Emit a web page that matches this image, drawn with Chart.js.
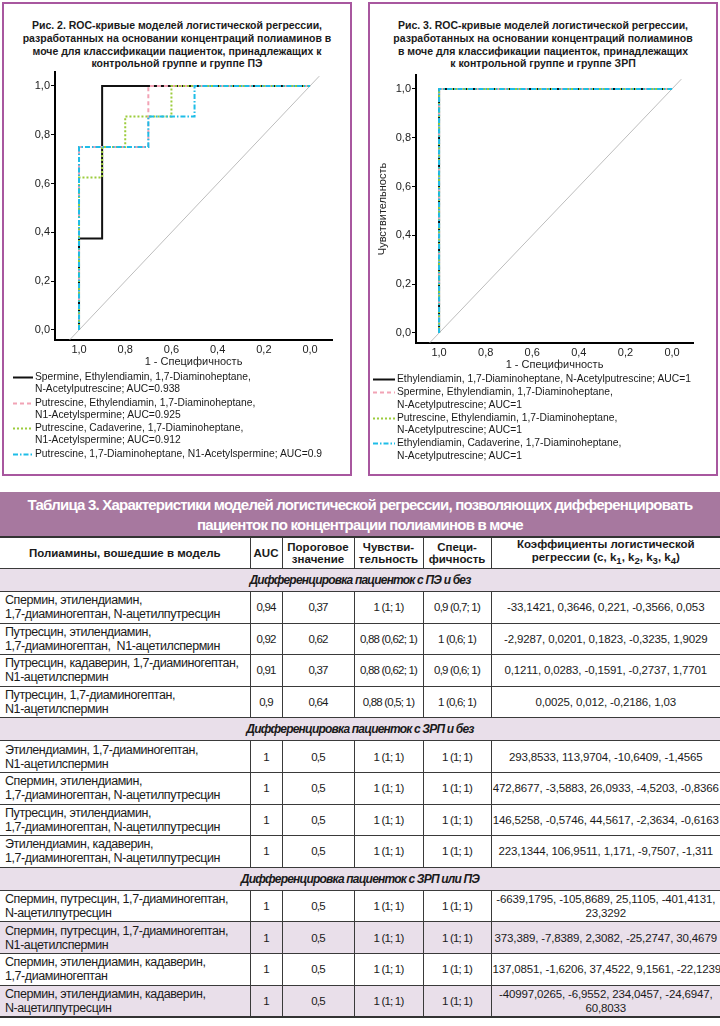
<!DOCTYPE html>
<html>
<head>
<meta charset="utf-8">
<script src="https://cdn.jsdelivr.net/npm/chart.js@4.4.1/dist/chart.umd.min.js"></script>
<style>
  body { margin: 0; width: 720px; height: 1026px; position: relative; background: #fff; overflow: hidden;
         font-family: "Liberation Sans", Arial, sans-serif; color: #1a1a1a; }
  .panel { position: absolute; top: 2px; width: 346px; height: 470px; border: 2px solid #a8579f; }
  .fig-title { position: absolute; top: 19px; width: 350px; text-align: center; font-weight: bold;
               font-size: 10.5px; line-height: 12.8px; color: #1a1a1a; }
  canvas { position: absolute; top: 0; }
  .legend { position: absolute; font-size: 10.3px; line-height: 12.3px; color: #1a1a1a; }
  .legend .item { display: flex; align-items: flex-start; margin-bottom: 1px; }
  .legend svg { flex: none; margin-top: 5px; margin-right: 2px; }
  .legend span { white-space: pre; }

  table { position: absolute; left: 0; top: 492px; width: 720px; border-collapse: collapse; table-layout: fixed;
          font-family: "Liberation Sans", Arial, sans-serif; font-size: 11.5px; border-bottom: 2px solid #333; }
  td, th { border: 1px solid #3a3a3a; padding: 0 3px; line-height: 14px; text-align: center; white-space: pre; }
  td:first-child, th:first-child { border-left: none; }
  td:last-child, th:last-child { border-right: none; }
  .band th { background: #a7789f; color: #fff; font-size: 15px; line-height: 20px; height: 43px;
             border: none; border-bottom: 2px solid #333; padding: 1px 0 0 0; letter-spacing: var(--ls-band); }
  .colhead th { font-size: 11.5px; line-height: 12.5px; height: 30px; padding: 0 2px; white-space: normal; }
  .section td { background: #e9dfea; font-weight: bold; font-style: italic; font-size: 12px; height: 22px;
                letter-spacing: var(--ls-sec); }
  .row td { height: 30.6px; letter-spacing: var(--ls-num); }
  .row td.name { text-align: left; padding-left: 5px; font-size: 12.5px; letter-spacing: var(--ls-name); }
  .row td.coef { padding: 0 1px; letter-spacing: var(--ls-coef); }
  .row.shade td { background: #e9dfea; }
</style>
</head>
<body>

<div class="panel" style="left:2px"></div>
<div class="panel" style="left:368px"></div>

<div class="fig-title" style="left:2px">Рис. 2. ROC-кривые моделей логистической регрессии,<br>разработанных на основании концентраций полиаминов в<br>моче для классификации пациенток, принадлежащих к<br>контрольной группе и группе ПЭ</div>
<div class="fig-title" style="left:368px">Рис. 3. ROC-кривые моделей логистической регрессии,<br>разработанных на основании концентраций полиаминов<br>в моче для классификации пациенток, принадлежащих<br>к контрольной группе и группе ЗРП</div>

<canvas id="rocPE" width="360" height="480" style="left:0"></canvas>
<canvas id="rocFGR" width="360" height="480" style="left:360px"></canvas>

<div class="legend" id="legendPE" style="left:13px; top:371px"></div>
<div class="legend" id="legendFGR" style="left:373px; top:373px"></div>

<table id="tbl"></table>

<script>
// axis ticks
const specTicks = [1.0, 0.8, 0.6, 0.4, 0.2, 0.0];
const sensTicks = [0.0, 0.2, 0.4, 0.6, 0.8, 1.0];

// reference diagonal
const diagX = [1.04, -0.04];
const diagY = [-0.04, 1.04];

// Рис. 2 - ПЭ (x axis shown reversed, 1,0 on the left)
const peLabels = [
  'Spermine, Ethylendiamin, 1,7-Diaminoheptane,\nN-Acetylputrescine; AUC=0.938',
  'Putrescine, Ethylendiamin, 1,7-Diaminoheptane,\nN1-Acetylspermine; AUC=0.925',
  'Putrescine, Cadaverine, 1,7-Diaminoheptane,\nN1-Acetylspermine; AUC=0.912',
  'Putrescine, 1,7-Diaminoheptane, N1-Acetylspermine; AUC=0.9'
];
const pe1x = [1, 1, 0.9, 0.9, 0];
const pe1y = [0, 0.375, 0.375, 1, 1];
const pe2x = [1, 1, 0.7, 0.7, 0];
const pe2y = [0, 0.75, 0.75, 1, 1];
const pe3x = [1, 1, 0.9, 0.9, 0.8, 0.8, 0.6, 0.6, 0];
const pe3y = [0, 0.625, 0.625, 0.75, 0.75, 0.875, 0.875, 1, 1];
const pe4x = [1, 1, 0.7, 0.7, 0.5, 0.5, 0];
const pe4y = [0, 0.75, 0.75, 0.875, 0.875, 1, 1];

// Рис. 3 - ЗРП
const fgrLabels = [
  'Ethylendiamin, 1,7-Diaminoheptane, N-Acetylputrescine; AUC=1',
  'Spermine, Ethylendiamin, 1,7-Diaminoheptane,\nN-Acetylputrescine; AUC=1',
  'Putrescine, Ethylendiamin, 1,7-Diaminoheptane,\nN-Acetylputrescine; AUC=1',
  'Ethylendiamin, Cadaverine, 1,7-Diaminoheptane,\nN-Acetylputrescine; AUC=1'
];
const fgr1x = [1, 1, 0];
const fgr1y = [0, 1, 1];
const fgr2x = [1, 1, 0];
const fgr2y = [0, 1, 1];
const fgr3x = [1, 1, 0];
const fgr3y = [0, 1, 1];
const fgr4x = [1, 1, 0];
const fgr4y = [0, 1, 1];

// table 3
const sectionTitles = [
  'Дифференцировка пациенток с ПЭ и без',
  'Дифференцировка пациенток с ЗРП и без',
  'Дифференцировка пациенток с ЗРП или ПЭ'
];
const peModels = [
  'Спермин, этилендиамин,\n1,7-диаминогептан, N-ацетилпутресцин',
  'Путресцин, этилендиамин,\n1,7-диаминогептан,  N1-ацетилспермин',
  'Путресцин, кадаверин, 1,7-диаминогептан,\nN1-ацетилспермин',
  'Путресцин, 1,7-диаминогептан,\nN1-ацетилспермин'
];
const peAuc = [0.94, 0.92, 0.91, 0.9];
const peCut = [0.37, 0.62, 0.37, 0.64];
const peSens = ['1 (1; 1)', '0,88 (0,62; 1)', '0,88 (0,62; 1)', '0,88 (0,5; 1)'];
const peSpec = ['0,9 (0,7; 1)', '1 (0,6; 1)', '0,9 (0,6; 1)', '1 (0,6; 1)'];
const peCoef = [
  '-33,1421, 0,3646, 0,221, -0,3566, 0,053',
  '-2,9287, 0,0201, 0,1823, -0,3235, 1,9029',
  '0,1211, 0,0283, -0,1591, -0,2737, 1,7701',
  '0,0025, 0,012, -0,2186, 1,03'
];
const fgrModels = [
  'Этилендиамин, 1,7-диаминогептан,\nN1-ацетилспермин',
  'Спермин, этилендиамин,\n1,7-диаминогептан, N-ацетилпутресцин',
  'Путресцин, этилендиамин,\n1,7-диаминогептан, N-ацетилпутресцин',
  'Этилендиамин, кадаверин,\n1,7-диаминогептан, N-ацетилпутресцин'
];
const fgrAuc = [1, 1, 1, 1];
const fgrCut = [0.5, 0.5, 0.5, 0.5];
const fgrSens = ['1 (1; 1)', '1 (1; 1)', '1 (1; 1)', '1 (1; 1)'];
const fgrSpec = ['1 (1; 1)', '1 (1; 1)', '1 (1; 1)', '1 (1; 1)'];
const fgrCoef = [
  '293,8533, 113,9704, -10,6409, -1,4565',
  '472,8677, -3,5883, 26,0933, -4,5203, -0,8366',
  '146,5258, -0,5746, 44,5617, -2,3634, -0,6163',
  '223,1344, 106,9511, 1,171, -9,7507, -1,311'
];
const bothModels = [
  'Спермин, путресцин, 1,7-диаминогептан,\nN-ацетилпутресцин',
  'Спермин, путресцин, 1,7-диаминогептан,\nN1-ацетилспермин',
  'Спермин, этилендиамин, кадаверин,\n1,7-диаминогептан',
  'Спермин, этилендиамин, кадаверин,\nN-ацетилпутресцин'
];
const bothAuc = [1, 1, 1, 1];
const bothCut = [0.5, 0.5, 0.5, 0.5];
const bothSens = ['1 (1; 1)', '1 (1; 1)', '1 (1; 1)', '1 (1; 1)'];
const bothSpec = ['1 (1; 1)', '1 (1; 1)', '1 (1; 1)', '1 (1; 1)'];
const bothCoef = [
  '-6639,1795, -105,8689, 25,1105, -401,4131,\n23,3292',
  '373,389, -7,8389, 2,3082, -25,2747, 30,4679',
  '137,0851, -1,6206, 37,4522, 9,1561, -22,1239',
  '-40997,0265, -6,9552, 234,0457, -24,6947,\n60,8033'
];

const lineStyles = [
  { color: '#111111', dash: [] },
  { color: '#f2a3b5', dash: [4, 3] },
  { color: '#9ccc3c', dash: [2, 2] },
  { color: '#1ebde8', dash: [5, 2, 1.5, 2] }
];

const fmt = v => v.toFixed(1).replace('.', ',');
const comma = v => String(v).replace('.', ',');
const pts = (xs, ys) => xs.map((x, i) => ({ x: x, y: ys[i] }));

function rocChart(id, curves, labels, box) {
  const datasets = curves.map((c, i) => ({
    label: labels[i],
    data: pts(c[0], c[1]),
    borderColor: lineStyles[i].color,
    borderDash: lineStyles[i].dash,
    borderWidth: 2,
    pointRadius: 0,
    tension: 0,
    fill: false,
    order: curves.length - i   // black underneath, cyan on top
  }));
  datasets.push({
    label: 'diag',
    data: pts(diagX, diagY),
    borderColor: '#bdbdbd',
    borderWidth: 1,
    pointRadius: 0,
    fill: false,
    order: 10
  });
  const tickFont = { size: 11, family: 'Liberation Sans' };
  return new Chart(document.getElementById(id), {
    type: 'line',
    data: { datasets: datasets },
    options: {
      responsive: false,
      animation: false,
      devicePixelRatio: 1,
      layout: { padding: box.padding },
      plugins: { legend: { display: false }, tooltip: { enabled: false } },
      scales: {
        x: {
          type: 'linear', reverse: true, min: box.xMin, max: box.xMax,
          afterBuildTicks: s => { s.ticks = specTicks.map(v => ({ value: v })); },
          afterFit: s => { s.height = 30; },
          ticks: { callback: v => fmt(v), color: '#222', font: tickFont, padding: 3, maxRotation: 0, autoSkip: false },
          grid: { display: true, drawOnChartArea: false, drawTicks: false },
          border: { display: true, color: '#000', width: 2 },
          title: { display: true, text: '1 - Специфичность', color: '#222', font: tickFont, padding: { top: 0, bottom: 1 } }
        },
        y: {
          type: 'linear', min: -0.041, max: 1.057,
          afterBuildTicks: s => { s.ticks = sensTicks.map(v => ({ value: v })); },
          afterFit: s => { s.width = box.yWidth; },
          ticks: { callback: v => fmt(v), color: '#222', font: tickFont, padding: 1 },
          grid: { display: true, drawOnChartArea: false, drawTicks: true, tickLength: 4, tickColor: '#000' },
          border: { display: true, color: '#000', width: 2 },
          title: { display: box.yTitle, text: 'Чувствительность', color: '#222', font: tickFont, padding: 0 }
        }
      }
    }
  });
}

function legendHtml(el, chart, sampleW) {
  chart.data.datasets.filter(ds => ds.label !== 'diag').forEach(ds => {
    const item = document.createElement('div');
    item.className = 'item';
    const dash = ds.borderDash.length ? ds.borderDash.join(' ') : 'none';
    item.innerHTML = '<svg width="' + sampleW + '" height="3"><line x1="0" y1="1.5" x2="' + sampleW + '" y2="1.5" stroke="' +
      ds.borderColor + '" stroke-width="2" stroke-dasharray="' + dash + '"/></svg><span></span>';
    item.querySelector('span').textContent = ds.label;
    el.appendChild(item);
  });
}

const pe = rocChart('rocPE',
  [[pe1x, pe1y], [pe2x, pe2y], [pe3x, pe3y], [pe4x, pe4y]], peLabels,
  { padding: { left: 10, top: 72, right: 28, bottom: 110 }, yWidth: 45, xMin: -0.095, xMax: 1.104, yTitle: false });
const fgr = rocChart('rocFGR',
  [[fgr1x, fgr1y], [fgr2x, fgr2y], [fgr3x, fgr3y], [fgr4x, fgr4y]], fgrLabels,
  { padding: { left: 16, top: 75, right: 27, bottom: 107 }, yWidth: 40, xMin: -0.09, xMax: 1.099, yTitle: true });
legendHtml(document.getElementById('legendPE'), pe, 20);
legendHtml(document.getElementById('legendFGR'), fgr, 22);

// the print uses a condensed face; tighten letter spacing to the measured widths
const mctx = document.createElement('canvas').getContext('2d');
function spacing(text, font, target) {
  mctx.font = font;
  return ((target - mctx.measureText(text).width) / text.length).toFixed(3) + 'px';
}
const root = document.documentElement.style;
root.setProperty('--ls-band', spacing('Таблица 3. Характеристики моделей логистической регрессии, позволяющих дифференцировать', 'bold 15px "Liberation Sans"', 665));
root.setProperty('--ls-sec', spacing(sectionTitles[0], 'italic bold 12px "Liberation Sans"', 221));
root.setProperty('--ls-name', spacing('1,7-диаминогептан, N-ацетилпутресцин', '12.5px "Liberation Sans"', 215));
root.setProperty('--ls-num', spacing('0,88 (0,62; 1)', '11.5px "Liberation Sans"', 57));
root.setProperty('--ls-coef', spacing(fgrCoef[1], '11.5px "Liberation Sans"', 226));

// build table
const tbl = document.getElementById('tbl');
let html = '<colgroup><col style="width:250px"><col style="width:32px"><col style="width:72px"><col style="width:69px"><col style="width:68px"><col style="width:229px"></colgroup>';
html += '<tr class="band"><th colspan="6">Таблица 3. Характеристики моделей логистической регрессии, позволяющих дифференцировать<br>пациенток по концентрации полиаминов в моче</th></tr>';
html += '<tr class="colhead"><th>Полиамины, вошедшие в модель</th><th>AUC</th><th>Пороговое<br>значение</th><th>Чувстви-<br>тельность</th><th>Специ-<br>фичность</th>' +
        '<th>Коэффициенты логистической<br>регрессии (c, k<sub>1</sub>, k<sub>2</sub>, k<sub>3</sub>, k<sub>4</sub>)</th></tr>';
const sections = [
  [peModels, peAuc, peCut, peSens, peSpec, peCoef, false],
  [fgrModels, fgrAuc, fgrCut, fgrSens, fgrSpec, fgrCoef, false],
  [bothModels, bothAuc, bothCut, bothSens, bothSpec, bothCoef, true]
];
const esc = s => s.replace(/&/g, '&amp;').replace(/</g, '&lt;');
sections.forEach((s, k) => {
  html += '<tr class="section"><td colspan="6">' + sectionTitles[k] + '</td></tr>';
  s[0].forEach((name, i) => {
    const cls = (s[6] && i % 2 === 1) ? 'row shade' : 'row';
    html += '<tr class="' + cls + '"><td class="name">' + esc(name) + '</td><td>' + comma(s[1][i]) + '</td><td>' + comma(s[2][i]) +
            '</td><td>' + s[3][i] + '</td><td>' + s[4][i] + '</td><td class="coef">' + esc(s[5][i]) + '</td></tr>';
  });
});
tbl.innerHTML = html;
</script>
</body>
</html>
